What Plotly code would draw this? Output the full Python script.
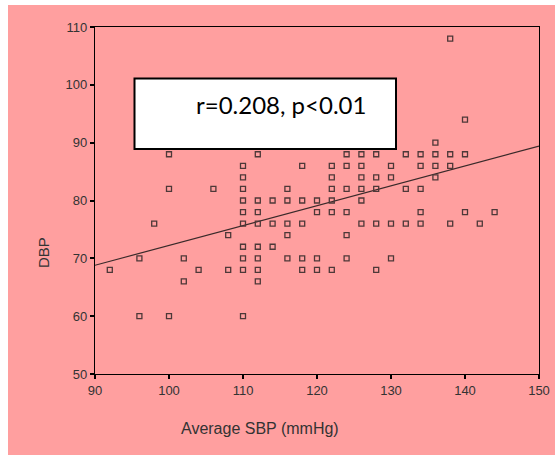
import plotly.graph_objects as go

# Scatter data (Average SBP, DBP)
sbp = [100, 100, 106, 98, 108, 96, 102, 92, 104, 108, 102, 96, 100,
       112, 124, 126, 128,
       110, 118, 122, 124, 126,
       110, 122, 126, 128,
       110, 116, 122, 124, 126, 128,
       110, 112, 114, 116, 118, 120, 122, 126,
       110, 112, 120, 122, 124,
       110, 112, 114, 116, 118, 126, 128,
       116, 124,
       110, 112, 114,
       110, 112, 116, 118, 120, 124,
       110, 112, 118, 120, 122, 128,
       112,
       110,
       138,
       140,
       136,
       132, 134, 136, 138, 140,
       130, 134, 136, 138,
       130, 136,
       132, 134,
       134, 140, 144,
       130, 132, 134, 138, 142,
       130]
dbp = [88, 82, 82, 76, 74, 70, 70, 68, 68, 68, 66, 60, 60,
       88, 88, 88, 88,
       86, 86, 86, 86, 86,
       84, 84, 84, 84,
       82, 82, 82, 82, 82, 82,
       80, 80, 80, 80, 80, 80, 80, 80,
       78, 78, 78, 78, 78,
       76, 76, 76, 76, 76, 76, 76,
       74, 74,
       72, 72, 72,
       70, 70, 70, 70, 70, 70,
       68, 68, 68, 68, 68, 68,
       66,
       60,
       108,
       94,
       90,
       88, 88, 88, 88, 88,
       86, 86, 86, 86,
       84, 84,
       82, 82,
       78, 78, 78,
       76, 76, 76, 76, 76,
       70]

# Regression line end points
fit_x = [90, 150]
fit_y = [68.8, 89.4]

x_ticks = [90, 100, 110, 120, 130, 140, 150]
y_ticks = [50, 60, 70, 80, 90, 100, 110]
stat_text = "r=0.208, p<0.01"

PINK = "#FF9F9F"
W, H = 555, 455
ML, MR, MT, MB = 95, 16, 27, 81
PW = W - ML - MR
PH = H - MT - MB

def px(xp):
    return (xp - ML) / PW

def py(yp):
    return (H - MB - yp) / PH

fig = go.Figure()
fig.add_trace(go.Scatter(
    x=fit_x, y=fit_y, mode="lines",
    line=dict(color="#3a2a2a", width=1.2),
    hoverinfo="skip", showlegend=False))
fig.add_trace(go.Scatter(
    x=sbp, y=dbp, mode="markers",
    marker=dict(symbol="square-open", size=5, color="#4d3838",
                line=dict(width=1.3, color="#4d3838")),
    showlegend=False))

axis_common = dict(
    showgrid=False, zeroline=False, showline=True, mirror=True,
    linecolor="black", linewidth=1.3, automargin=False,
    ticks="outside", ticklen=4, tickwidth=2, tickcolor="black",
    tickfont=dict(family="Liberation Sans, Arial, sans-serif", size=13, color="#333"),
)
fig.update_xaxes(range=[90, 150], tickvals=x_ticks, **axis_common)
fig.update_yaxes(range=[50, 110], tickvals=y_ticks, **axis_common)

shapes = [
    dict(type="rect", xref="paper", yref="paper", layer="below",
         x0=px(8), x1=px(W), y0=py(H), y1=py(5),
         fillcolor=PINK, line=dict(width=0)),
    dict(type="rect", xref="paper", yref="paper", layer="above",
         x0=px(134.5), x1=px(396), y0=py(149), y1=py(78.5),
         fillcolor="white", line=dict(color="black", width=2)),
]

annotations = [
    dict(text=stat_text, xref="paper", yref="paper", x=px(281), y=py(105),
         showarrow=False, xanchor="center", yanchor="middle",
         font=dict(family="Lato, Carlito, sans-serif", size=24, color="black")),
    dict(text="Average SBP (mmHg)", xref="paper", yref="paper", x=px(260), y=py(428),
         showarrow=False, xanchor="center", yanchor="middle",
         font=dict(family="Liberation Sans, Arial, sans-serif", size=16, color="#333")),
    dict(text="DBP", xref="paper", yref="paper", x=px(43), y=py(253),
         showarrow=False, xanchor="center", yanchor="middle", textangle=-90,
         font=dict(family="Liberation Sans, Arial, sans-serif", size=15, color="#333")),
]

fig.update_layout(
    width=W, height=H,
    margin=dict(l=ML, r=MR, t=MT, b=MB, pad=0),
    paper_bgcolor="white", plot_bgcolor=PINK,
    shapes=shapes, annotations=annotations,
    showlegend=False,
)

fig.write_html("out.html", config={"displayModeBar": False})
